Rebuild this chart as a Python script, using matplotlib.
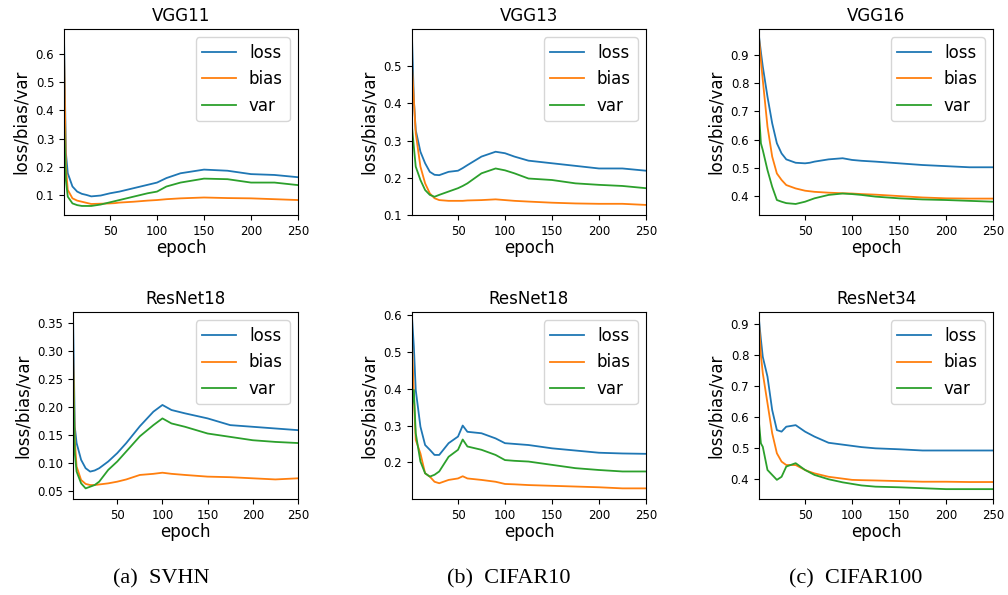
"""
Bias/variance curves over training epochs for six networks (SVHN, CIFAR10, CIFAR100)
"""

import matplotlib
matplotlib.use('Agg')
import matplotlib.pyplot as plt

epochs = [1, 3, 5, 10, 15, 20, 25, 30, 40, 50, 55, 60, 75, 90, 100, 110, 125, 150, 175, 200, 225, 250]

# SVHN - VGG11
vgg11_loss = [0.66, 0.25, 0.177, 0.13, 0.112, 0.104, 0.1, 0.095, 0.098, 0.106, 0.109, 0.112, 0.124, 0.136, 0.144, 0.16, 0.177, 0.19, 0.186, 0.174, 0.171, 0.163]
vgg11_bias = [0.62, 0.2, 0.118, 0.088, 0.08, 0.076, 0.072, 0.068, 0.069, 0.07, 0.071, 0.073, 0.076, 0.08, 0.082, 0.085, 0.088, 0.091, 0.089, 0.088, 0.085, 0.082]
vgg11_var = [0.37, 0.153, 0.094, 0.07, 0.064, 0.061, 0.061, 0.061, 0.066, 0.074, 0.078, 0.082, 0.094, 0.106, 0.112, 0.13, 0.144, 0.158, 0.156, 0.144, 0.144, 0.135]

# CIFAR10 - VGG13
vgg13_loss = [0.579, 0.41, 0.328, 0.27, 0.239, 0.216, 0.208, 0.207, 0.216, 0.219, 0.226, 0.234, 0.257, 0.27, 0.266, 0.257, 0.246, 0.239, 0.232, 0.225, 0.225, 0.219]
vgg13_bias = [0.503, 0.41, 0.32, 0.23, 0.185, 0.158, 0.145, 0.14, 0.138, 0.138, 0.138, 0.139, 0.14, 0.142, 0.14, 0.138, 0.136, 0.133, 0.131, 0.13, 0.13, 0.127]
vgg13_var = [0.337, 0.283, 0.23, 0.194, 0.167, 0.154, 0.149, 0.154, 0.163, 0.172, 0.178, 0.185, 0.212, 0.225, 0.22, 0.212, 0.198, 0.194, 0.185, 0.181, 0.178, 0.172]

# CIFAR100 - VGG16
vgg16_loss = [0.965, 0.91, 0.859, 0.752, 0.658, 0.587, 0.551, 0.53, 0.518, 0.516, 0.518, 0.522, 0.53, 0.534, 0.528, 0.525, 0.522, 0.516, 0.51, 0.506, 0.502, 0.502]
vgg16_bias = [0.959, 0.88, 0.811, 0.646, 0.54, 0.48, 0.457, 0.439, 0.427, 0.419, 0.417, 0.415, 0.412, 0.41, 0.409, 0.407, 0.405, 0.4, 0.395, 0.392, 0.391, 0.391]
vgg16_var = [0.693, 0.587, 0.563, 0.492, 0.433, 0.386, 0.38, 0.375, 0.372, 0.38, 0.386, 0.392, 0.404, 0.409, 0.407, 0.404, 0.398, 0.392, 0.388, 0.386, 0.383, 0.38]

# SVHN - ResNet18
r18s_loss = [0.367, 0.164, 0.135, 0.105, 0.09, 0.084, 0.086, 0.09, 0.102, 0.117, 0.126, 0.135, 0.165, 0.191, 0.203, 0.194, 0.188, 0.179, 0.167, 0.164, 0.161, 0.158]
r18s_bias = [0.307, 0.14, 0.093, 0.069, 0.062, 0.06, 0.06, 0.061, 0.063, 0.066, 0.068, 0.07, 0.078, 0.08, 0.082, 0.08, 0.078, 0.075, 0.074, 0.072, 0.07, 0.072]
r18s_var = [0.277, 0.117, 0.084, 0.063, 0.054, 0.057, 0.06, 0.066, 0.087, 0.102, 0.111, 0.12, 0.147, 0.167, 0.179, 0.17, 0.164, 0.152, 0.146, 0.14, 0.137, 0.135]

# CIFAR10 - ResNet18
r18c_loss = [0.596, 0.515, 0.397, 0.297, 0.247, 0.234, 0.22, 0.22, 0.252, 0.27, 0.3, 0.283, 0.279, 0.265, 0.252, 0.25, 0.247, 0.238, 0.232, 0.226, 0.224, 0.223]
r18c_bias = [0.533, 0.379, 0.261, 0.224, 0.17, 0.161, 0.147, 0.143, 0.152, 0.156, 0.162, 0.156, 0.152, 0.147, 0.141, 0.14, 0.138, 0.136, 0.134, 0.132, 0.129, 0.129]
r18c_var = [0.351, 0.397, 0.279, 0.202, 0.17, 0.161, 0.166, 0.175, 0.215, 0.234, 0.262, 0.243, 0.234, 0.22, 0.206, 0.204, 0.202, 0.193, 0.184, 0.179, 0.175, 0.175]

# CIFAR100 - ResNet34
r34_loss = [0.913, 0.85, 0.794, 0.73, 0.622, 0.557, 0.552, 0.568, 0.573, 0.552, 0.544, 0.536, 0.516, 0.51, 0.506, 0.502, 0.498, 0.495, 0.491, 0.491, 0.491, 0.491]
r34_bias = [0.902, 0.8, 0.741, 0.644, 0.547, 0.482, 0.455, 0.444, 0.444, 0.428, 0.422, 0.417, 0.406, 0.4, 0.396, 0.395, 0.394, 0.392, 0.39, 0.39, 0.389, 0.389]
r34_var = [0.579, 0.514, 0.503, 0.428, 0.412, 0.396, 0.406, 0.439, 0.45, 0.428, 0.42, 0.412, 0.398, 0.388, 0.383, 0.378, 0.374, 0.372, 0.369, 0.366, 0.366, 0.366]

titles = ['VGG11', 'VGG13', 'VGG16', 'ResNet18', 'ResNet18', 'ResNet34']
captions = ['(a)  SVHN', '(b)  CIFAR10', '(c)  CIFAR100']

panels = [
    (vgg11_loss, vgg11_bias, vgg11_var),
    (vgg13_loss, vgg13_bias, vgg13_var),
    (vgg16_loss, vgg16_bias, vgg16_var),
    (r18s_loss, r18s_bias, r18s_var),
    (r18c_loss, r18c_bias, r18c_var),
    (r34_loss, r34_bias, r34_var),
]

# axes boxes [left, bottom, width, height] and y limits per panel
boxes = [
    [0.0635, 0.6387, 0.2321, 0.3126],
    [0.4087, 0.6387, 0.2321, 0.3126],
    [0.7530, 0.6387, 0.2321, 0.3126],
    [0.0724, 0.1613, 0.2232, 0.3143],
    [0.4087, 0.1613, 0.2321, 0.3143],
    [0.7530, 0.1613, 0.2321, 0.3143],
]
ylims = [(0.029, 0.689), (0.1, 0.6), (0.333, 0.992), (0.035, 0.369), (0.1, 0.609), (0.334, 0.939)]
yticks = [
    [0.1, 0.2, 0.3, 0.4, 0.5, 0.6],
    [0.1, 0.2, 0.3, 0.4, 0.5],
    [0.4, 0.5, 0.6, 0.7, 0.8, 0.9],
    [0.05, 0.10, 0.15, 0.20, 0.25, 0.30, 0.35],
    [0.2, 0.3, 0.4, 0.5, 0.6],
    [0.4, 0.5, 0.6, 0.7, 0.8, 0.9],
]

fig = plt.figure(figsize=(10.08, 5.95), dpi=100)

for i, (loss, bias, var) in enumerate(panels):
    ax = fig.add_axes(boxes[i])
    ax.plot(epochs, loss, color='#1f77b4', linewidth=1.3, label='loss')
    ax.plot(epochs, bias, color='#ff7f0e', linewidth=1.3, label='bias')
    ax.plot(epochs, var, color='#2ca02c', linewidth=1.3, label='var')
    ax.set_xlim(1, 250)
    ax.set_ylim(*ylims[i])
    ax.set_xticks([50, 100, 150, 200, 250])
    ax.set_yticks(yticks[i])
    if i == 3:
        ax.set_yticklabels([f'{t:.2f}' for t in yticks[i]])
    ax.tick_params(labelsize=8.5)
    ax.set_title(titles[i], fontsize=12)
    ax.set_xlabel('epoch', fontsize=12, labelpad=1)
    ax.set_ylabel('loss/bias/var', fontsize=12)
    ax.legend(loc='upper right', fontsize=12)

# subfigure captions under each column
caption_x = [161 / 1008, 509 / 1008, 856 / 1008]
for x, text in zip(caption_x, captions):
    fig.text(x, 1 - 579 / 595, text, ha='center', va='center',
             fontsize=16, family='Liberation Serif')

plt.savefig('out.png', dpi=100)
plt.close()
